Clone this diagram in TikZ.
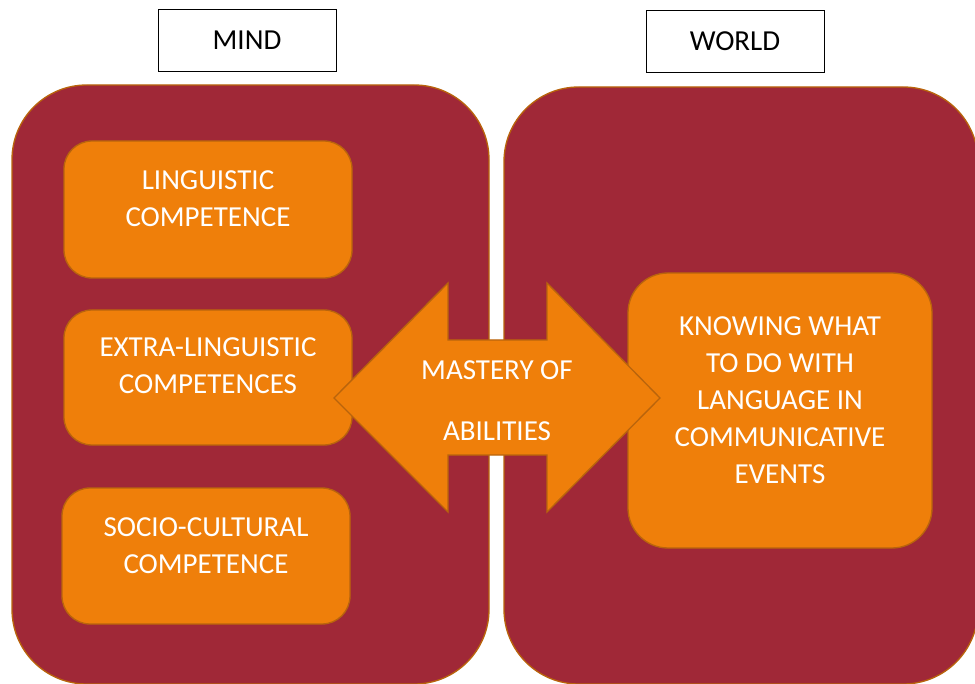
\documentclass[tikz,border=0pt]{standalone}
\usepackage{fontspec}
\setmainfont{Carlito}
\definecolor{panelred}{HTML}{A02837}
\definecolor{boxorange}{HTML}{EF7F0A}
\definecolor{boxedge}{HTML}{B9640C}

\begin{document}
\begin{tikzpicture}[x=0.75pt,y=-0.75pt]
\tikzset{panel/.style = {shape=rectangle,rounded corners=56pt,fill=panelred,draw=boxedge,line width=1pt}}
\tikzset{compbox/.style = {shape=rectangle,rounded corners=21pt,fill=boxorange,draw=boxedge,line width=1pt,minimum width=216pt,inner sep=0pt}}
\tikzset{boxtext/.style = {text=white,align=center,font=\fontsize{21.75}{27.75}\selectfont}}
\tikzset{title/.style = {shape=rectangle,draw=black,line width=0.6pt,minimum width=133.5pt,minimum height=46.5pt,font=\fontsize{21.75}{27.75}\selectfont}}
\tikzset{arrowshape/.style = {fill=boxorange,draw=boxedge,line width=1pt,line join=miter}}
\useasboundingbox (0,0) rectangle (975,684);
\clip (0,0) rectangle (975,684);
% titles
\node[title] (mindtitle) at (247,40) {MIND};
\node[title] (worldtitle) at (735,41) {WORLD};
% the two panels
\node[panel,minimum width=357.75pt,minimum height=449.25pt] (mind) at (250.5,384.5) {};
\node[panel,minimum width=355.5pt,minimum height=447.75pt] (world) at (741,385.5) {};
% competences
\node[compbox,minimum height=102.75pt] (ling) at (208,209.5) {};
\node[compbox,minimum height=101.25pt] (extra) at (208,377.5) {};
\node[compbox,minimum height=102pt] (socio) at (206,556) {};
\node[compbox,minimum width=228pt,minimum height=206.25pt,rounded corners=30pt] (events) at (780,410.5) {};
\node[boxtext] (lingtext) at (208,198.5) {LINGUISTIC\\COMPETENCE};
\node[boxtext] (extratext) at (208,366) {EXTRA-LINGUISTIC\\COMPETENCES};
\node[boxtext] (sociotext) at (206,546) {SOCIO-CULTURAL\\COMPETENCE};
\node[boxtext] (eventstext) at (780,400) {KNOWING WHAT\\TO DO WITH\\LANGUAGE IN\\COMMUNICATIVE\\EVENTS};
% double arrow
\draw[arrowshape] (334,398) -- (448,283) -- (448,340) -- (547,340) -- (547,283)
  -- (660,398) -- (547,512) -- (547,455) -- (448,455) -- (448,512) -- cycle;
\node[boxtext] (mastery) at (497,400.5) {MASTERY OF\\[18pt]ABILITIES};
\end{tikzpicture}
\end{document}
